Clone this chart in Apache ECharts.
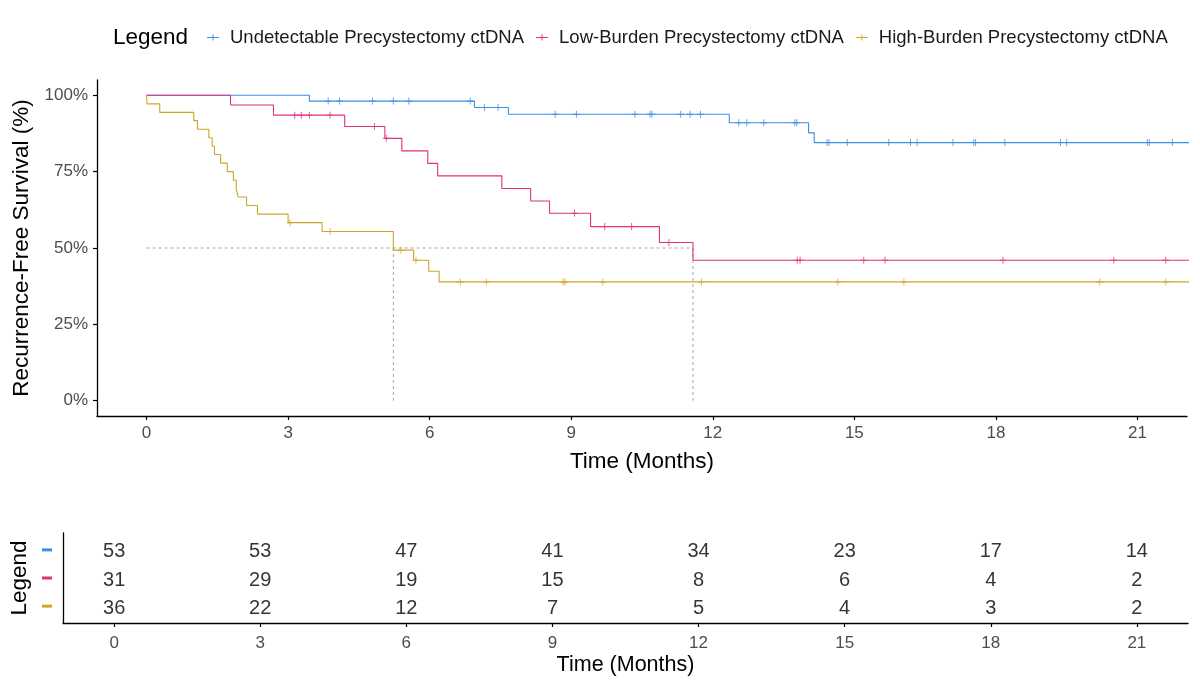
<!DOCTYPE html>
<html lang="en">
<head>
<meta charset="UTF-8">
<title>Recurrence-free survival by precystectomy ctDNA</title>
<script src="https://cdn.jsdelivr.net/npm/echarts@6/dist/echarts.min.js"></script>
</head>
<body style="margin: 0">
<div id="chart" style="width: 1200px; height: 691px"></div>
<script>
const groups = ['Undetectable Precystectomy ctDNA', 'Low-Burden Precystectomy ctDNA', 'High-Burden Precystectomy ctDNA'];
const colors = ['#3d8fe6', '#e2307f', '#cfa628'];

// KM steps (months, survival %)
const undetTime = [0, 3.45, 6.95, 7.67, 12.35, 14.03, 14.15, 23];
const undetSurv = [100, 98.1, 96.0, 93.8, 91.0, 87.7, 84.5, 84.5];
const undetCensor = [3.85, 4.09, 4.79, 5.23, 5.56, 6.86, 7.16, 7.45, 8.66, 9.11, 10.35, 10.67, 10.71,
    11.32, 11.52, 11.74, 12.55, 12.72, 13.08, 13.74, 13.78, 14.42, 14.46, 14.85, 15.73, 16.19, 16.33,
    17.09, 17.53, 17.57, 18.19, 19.37, 19.5, 21.21, 21.25, 21.74];

const lowTime = [0, 1.78, 2.69, 4.2, 5.05, 5.41, 5.96, 6.17, 7.53, 8.14, 8.54, 9.41, 10.87, 11.58, 23];
const lowSurv = [100, 96.8, 93.5, 89.8, 85.9, 81.8, 77.7, 73.6, 69.5, 65.4, 61.4, 57.0, 51.8, 46.0, 46.0];
const lowCensor = [3.14, 3.28, 3.45, 3.89, 4.83, 5.08, 9.07, 9.71, 10.28, 11.07, 13.79, 13.85, 15.2,
    15.65, 18.15, 20.5, 21.6];

const highTime = [0, 0.01, 0.28, 1.0, 1.08, 1.32, 1.39, 1.44, 1.57, 1.71, 1.84, 1.9, 1.94, 2.12, 2.35,
    3.0, 3.72, 5.23, 5.66, 5.98, 6.2, 23];
const highSurv = [100, 97.2, 94.4, 91.7, 88.9, 86.1, 83.3, 80.6, 77.8, 75.0, 72.2, 69.4, 66.7, 63.9,
    61.1, 58.3, 55.4, 49.3, 46.0, 42.4, 38.9, 38.9];
const highCensor = [3.04, 3.89, 5.39, 5.71, 6.65, 7.2, 8.83, 8.87, 9.67, 11.76, 14.65, 16.05, 20.2, 21.6];

// median survival times (dashed guides)
const medians = [5.23, 11.58];

// number at risk table
const riskTimes = [0, 3, 6, 9, 12, 15, 18, 21];
const riskUndet = [53, 53, 47, 41, 34, 23, 17, 14];
const riskLow = [31, 29, 19, 15, 8, 6, 4, 2];
const riskHigh = [36, 22, 12, 7, 5, 4, 3, 2];

const xTicks = [0, 3, 6, 9, 12, 15, 18, 21];
const yTicks = [0, 25, 50, 75, 100];

const curves = [
    {t: undetTime, s: undetSurv, c: undetCensor},
    {t: lowTime, s: lowSurv, c: lowCensor},
    {t: highTime, s: highSurv, c: highCensor}
];
const riskRows = [riskUndet, riskLow, riskHigh];

function survAt(t, s, x) {
    let v = s[0];
    for (let i = 0; i < t.length; i++) { if (t[i] <= x) v = s[i]; }
    return v;
}

const font = 'Liberation Sans, Arial, sans-serif';
const crossSym = 'path://M-1,-0.14H1V0.14H-1Z M-0.14,-1H0.14V1H-0.14Z';
const legendIcon = 'path://M0,2.6H12V3.4H0Z M5.5,0H6.5V6H5.5Z';

let series = [];
curves.forEach(function (cv, i) {
    series.push({
        name: groups[i], type: 'line', step: 'end', xAxisIndex: 0, yAxisIndex: 0,
        showSymbol: false, color: colors[i],
        lineStyle: {width: 1.1, color: colors[i]},
        data: cv.t.map(function (x, k) { return [x, cv.s[k]]; }),
        z: 3
    });
    series.push({
        name: groups[i], type: 'scatter', xAxisIndex: 0, yAxisIndex: 0,
        symbol: crossSym, symbolSize: 7, color: colors[i],
        itemStyle: {color: colors[i]},
        data: cv.c.map(function (x) { return [x, survAt(cv.t, cv.s, x)]; }),
        z: 4
    });
});

// median guides
let guideSegs = [[[0, 50], [Math.max.apply(null, medians), 50]]];
medians.forEach(function (m) { guideSegs.push([[m, 50], [m, 0]]); });
guideSegs.forEach(function (seg) {
    series.push({
        type: 'line', xAxisIndex: 0, yAxisIndex: 0, showSymbol: false, silent: true,
        lineStyle: {color: '#a6a6a6', width: 1, type: [3, 3]},
        data: seg, z: 2
    });
});

// risk table numbers
riskRows.forEach(function (row, i) {
    series.push({
        type: 'scatter', xAxisIndex: 1, yAxisIndex: 1, symbolSize: 0, silent: true,
        label: {show: true, position: 'inside', offset: [0, 2], formatter: function (p) { return p.value[2]; },
            color: '#000', fontSize: 20, fontFamily: font},
        data: row.map(function (n, k) { return [riskTimes[k], 3 - i, n]; })
    });
});

let dashRich = {};
colors.forEach(function (c, i) {
    dashRich['g' + (3 - i)] = {backgroundColor: c, width: 10, height: 3};
});

const axisLineStyle = {color: '#000', width: 1.3};

let option = {
    animation: false,
    backgroundColor: '#fff',
    title: {
        text: 'Legend', left: 108, top: 21,
        textStyle: {fontFamily: font, fontSize: 22.5, fontWeight: 'normal', color: '#000'}
    },
    legend: {
        left: 202, top: 23, itemWidth: 12, itemHeight: 6, itemGap: 12,
        textStyle: {fontFamily: font, fontSize: 18.5, color: '#1a1a1a', padding: [0, 0, 0, 6]},
        data: groups.map(function (g, i) {
            return {name: g, icon: legendIcon, itemStyle: {color: colors[i]}};
        })
    },
    grid: [
        {left: 97, right: 13, top: 80, height: 336},
        {left: 63, right: 12, top: 533, height: 90}
    ],
    xAxis: [
        {
            type: 'value', gridIndex: 0, min: -1.05, max: 22.05,
            name: 'Time (Months)', nameLocation: 'middle', nameGap: 34,
            nameTextStyle: {fontFamily: font, fontSize: 22.5, color: '#000'},
            axisLine: {onZero: false, lineStyle: axisLineStyle},
            axisTick: {show: true, length: 4, customValues: xTicks, lineStyle: {color: '#000', width: 1.2}},
            axisLabel: {customValues: xTicks, margin: 9, fontFamily: font, fontSize: 17, color: '#4d4d4d'},
            splitLine: {show: false}
        },
        {
            type: 'value', gridIndex: 1, min: -1.05, max: 22.05,
            name: 'Time (Months)', nameLocation: 'middle', nameGap: 31,
            nameTextStyle: {fontFamily: font, fontSize: 21.5, color: '#000'},
            axisLine: {onZero: false, lineStyle: axisLineStyle},
            axisTick: {show: true, length: 4, customValues: xTicks, lineStyle: {color: '#000', width: 1.2}},
            axisLabel: {customValues: xTicks, margin: 12, fontFamily: font, fontSize: 17, color: '#4d4d4d'},
            splitLine: {show: false}
        }
    ],
    yAxis: [
        {
            type: 'value', gridIndex: 0, min: -5, max: 105,
            name: 'Recurrence-Free Survival (%)', nameLocation: 'middle', nameGap: 60, nameRotate: 90,
            nameTextStyle: {fontFamily: font, fontSize: 22.5, color: '#000'},
            axisLine: {show: true, onZero: false, lineStyle: axisLineStyle},
            axisTick: {show: true, length: 4, customValues: yTicks, lineStyle: {color: '#000', width: 1.2}},
            axisLabel: {customValues: yTicks, margin: 9, fontFamily: font, fontSize: 17, color: '#4d4d4d',
                formatter: function (v) { return v + '%'; }},
            splitLine: {show: false}
        },
        {
            type: 'value', gridIndex: 1, min: 0.4, max: 3.6,
            name: 'Legend', nameLocation: 'middle', nameGap: 27, nameRotate: 90,
            nameTextStyle: {fontFamily: font, fontSize: 22.5, color: '#000'},
            axisLine: {show: true, onZero: false, lineStyle: axisLineStyle},
            axisTick: {show: false},
            axisLabel: {customValues: [1, 2, 3], margin: 11,
                formatter: function (v) { return '{g' + v + '| }'; }, rich: dashRich},
            splitLine: {show: false}
        }
    ],
    series: series
};

let chart = echarts.init(document.getElementById('chart'));
chart.setOption(option);
</script>
</body>
</html>
